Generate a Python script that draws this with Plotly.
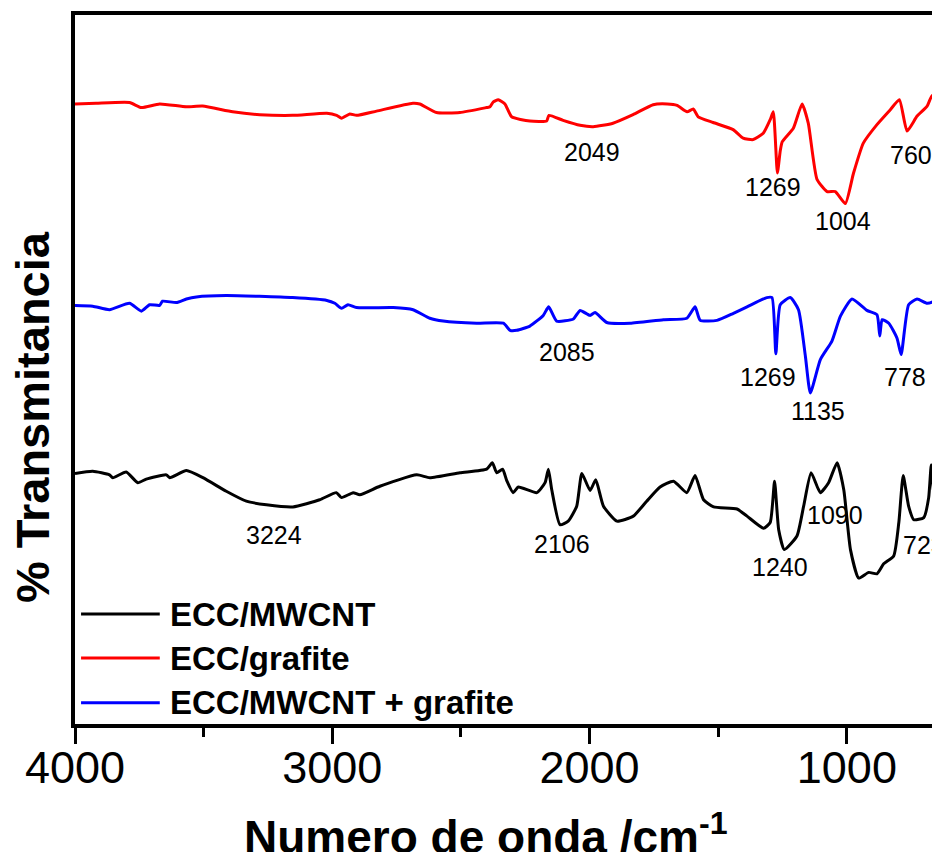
import plotly.graph_objects as go

""" FTIR spectra read off the figure: wavenumber (cm-1) and % transmittance (offset) """
# ECC/MWCNT (black)
wn_mwcnt = [4000, 3931, 3866, 3853, 3801, 3756, 3723, 3645, 3632, 3567, 3503, 3412, 3334, 3256,
            3153, 3049, 2984, 2964, 2919, 2893, 2815, 2672, 2621, 2504, 2400, 2378, 2361, 2338,
            2322, 2297, 2277, 2205, 2173, 2160, 2147, 2115, 2083, 2050, 2030, 1998, 1976, 1946,
            1894, 1830, 1778, 1726, 1674, 1622, 1590, 1557, 1518, 1427, 1388, 1324, 1298, 1281,
            1265, 1243, 1194, 1168, 1139, 1103, 1071, 1038, 1012, 986, 954, 915, 883, 857, 818,
            798, 781, 760, 740, 701, 682, 672, 662, 643, 636]
t_mwcnt = [35.7, 36.0, 35.5, 35.1, 35.9, 34.4, 34.9, 35.5, 35.1, 36.1, 35.1, 33.2, 31.8, 31.3,
           31.0, 32.0, 33.0, 32.3, 33.0, 32.7, 33.9, 35.5, 35.1, 35.8, 36.3, 37.2, 35.8, 36.3,
           34.7, 33.0, 33.8, 33.0, 34.4, 36.3, 33.4, 28.5, 29.0, 31.1, 35.7, 33.3, 34.8, 31.1,
           29.0, 29.7, 31.8, 33.8, 34.6, 33.0, 35.4, 32.0, 31.0, 30.7, 29.7, 28.0, 28.8, 34.6,
           27.8, 25.0, 26.9, 31.1, 35.8, 33.0, 34.4, 37.2, 33.4, 25.0, 21.0, 21.8, 21.6, 23.0, 24.1,
           28.8, 35.4, 31.1, 29.2, 29.5, 32.3, 36.9, 33.0, 37.2, 35.8]

# ECC/grafite (red)
wn_grafite = [4000, 3918, 3788, 3742, 3671, 3567, 3504, 3387, 3282, 3154, 3021, 2983, 2964, 2932,
              2906, 2828, 2687, 2660, 2595, 2504, 2400, 2387, 2374, 2355, 2329, 2303, 2232, 2167,
              2158, 2103, 2037, 1986, 1909, 1831, 1753, 1698, 1660, 1621, 1597, 1578, 1520, 1442,
              1403, 1364, 1325, 1298, 1286, 1270, 1259, 1251, 1208, 1174, 1150, 1116, 1077, 1045,
              1006, 974, 936, 883, 831, 796, 766, 727, 688, 669, 656, 636]
t_grafite = [87.6, 87.7, 87.8, 87.1, 87.6, 87.2, 87.3, 86.5, 86.1, 86.0, 86.3, 86.0, 85.6, 86.2,
             86.0, 86.6, 87.7, 87.6, 86.4, 86.4, 87.1, 87.2, 87.9, 88.2, 87.6, 85.8, 85.2, 85.2,
             86.0, 85.3, 84.6, 84.4, 84.9, 86.1, 87.5, 87.6, 87.4, 86.5, 86.9, 85.8, 85.0, 84.0,
             82.8, 82.6, 83.5, 85.4, 86.5, 77.9, 81.0, 82.3, 84.2, 87.6, 84.9, 77.0, 75.3, 75.3,
             73.6, 77.9, 82.1, 84.7, 86.8, 88.2, 83.8, 85.9, 87.3, 88.8, 87.6, 88.4]

# ECC/MWCNT + grafite (blue)
wn_mix = [4000, 3931, 3866, 3788, 3742, 3710, 3671, 3660, 3606, 3567, 3528, 3412, 3154, 3021,
          2990, 2964, 2939, 2906, 2763, 2686, 2621, 2569, 2439, 2335, 2309, 2283, 2232, 2180,
          2159, 2128, 2063, 2037, 1998, 1979, 1933, 1842, 1713, 1622, 1590, 1570, 1505, 1441,
          1388, 1311, 1291, 1276, 1259, 1220, 1188, 1161, 1142, 1103, 1058, 1025, 980, 922, 883,
          872, 863, 837, 805, 789, 760, 727, 688, 662, 636]
t_mix = [59.3, 59.2, 58.7, 59.6, 58.5, 59.4, 59.3, 59.9, 59.7, 60.2, 60.5, 60.7, 60.4, 60.0,
         59.6, 58.9, 59.4, 59.0, 59.0, 58.7, 57.5, 57.1, 56.8, 56.8, 55.8, 55.8, 56.4, 57.9,
         59.1, 57.1, 57.4, 58.6, 57.9, 58.3, 56.9, 56.8, 57.3, 57.5, 59.1, 57.2, 57.2, 58.2,
         59.1, 60.4, 60.4, 52.5, 59.4, 60.4, 58.7, 52.1, 47.0, 51.7, 54.3, 57.8, 60.2, 58.6, 58.0,
         55.0, 57.3, 56.8, 54.7, 52.4, 59.4, 60.2, 59.6, 59.9, 60.7]

# band labels: text, wavenumber, transmittance
band_text = ["2049", "1269", "1004", "760",
             "2085", "1269", "1135", "778",
             "3224", "2106", "1240", "1090", "723"]
band_wn = [1991, 1287, 1015, 751,
           2088, 1307, 1112, 774,
           3227, 2107, 1260, 1046, 700]
band_t = [80.9, 76.0, 71.1, 80.5,
          52.7, 49.3, 44.5, 49.3,
          27.0, 25.8, 22.6, 29.8, 25.6]

series = [
    ("ECC/MWCNT", wn_mwcnt, t_mwcnt, "black"),
    ("ECC/grafite", wn_grafite, t_grafite, "#ff0000"),
    ("ECC/MWCNT + grafite", wn_mix, t_mix, "#0000ff"),
]

FONT = "Liberation Sans, Arial, sans-serif"

fig = go.Figure()
for name, x, y, color in series:
    fig.add_trace(go.Scatter(x=x, y=y, mode="lines", name=name, showlegend=False,
                             line=dict(color=color, width=3, shape="spline", smoothing=0.5)))

# band annotations
for txt, x, y in zip(band_text, band_wn, band_t):
    fig.add_annotation(x=x, y=y, text=txt, showarrow=False, xanchor="center",
                       font=dict(family=FONT, size=25, color="black"))

# hand-made legend (long line samples like the original)
leg_y = [0.155, 0.093, 0.030]
for (name, _, _, color), ly in zip(series, leg_y):
    fig.add_shape(type="line", xref="paper", yref="paper", x0=0.007, x1=0.098, y0=ly, y1=ly,
                  line=dict(color=color, width=3))
    fig.add_annotation(xref="paper", yref="paper", x=0.108, y=ly, xanchor="left",
                       yanchor="middle", text="<b>" + name + "</b>", showarrow=False,
                       font=dict(family=FONT, size=33, color="black"))

# axis titles
fig.add_annotation(xref="paper", yref="paper", x=0.475, y=0, yshift=-110, xanchor="center",
                   yanchor="middle", text="<b>Numero de onda /cm<sup>-1</sup></b>",
                   showarrow=False, font=dict(family=FONT, size=46, color="black"))
fig.add_annotation(xref="paper", yref="paper", x=0, xshift=-43, y=0.433, xanchor="center",
                   yanchor="middle", textangle=-90, text="<b>% Transmitancia</b>",
                   showarrow=False, font=dict(family=FONT, size=47, color="black"))

fig.update_xaxes(range=[4000, 638], tick0=0, dtick=1000, ticks="outside", ticklen=16,
                 tickwidth=3, tickcolor="black", ticklabelstandoff=-15,
                 tickfont=dict(family=FONT, size=45, color="black"),
                 minor=dict(dtick=500, ticks="outside", ticklen=9, tickwidth=3, tickcolor="black"),
                 showline=True, linewidth=3.5, linecolor="black", mirror=True,
                 showgrid=False, zeroline=False)
fig.update_yaxes(range=[0.5, 100.1], showticklabels=False, ticks="", showline=True,
                 linewidth=3.5, linecolor="black", showgrid=False, zeroline=False)

# page body has an 8px margin, so the figure is 8px smaller to land where the original sits
fig.update_layout(width=932, height=844, plot_bgcolor="white", paper_bgcolor="white",
                  margin=dict(l=67, r=0, t=7, b=128), showlegend=False,
                  font=dict(family=FONT, color="black"))

fig.write_html("out.html")
